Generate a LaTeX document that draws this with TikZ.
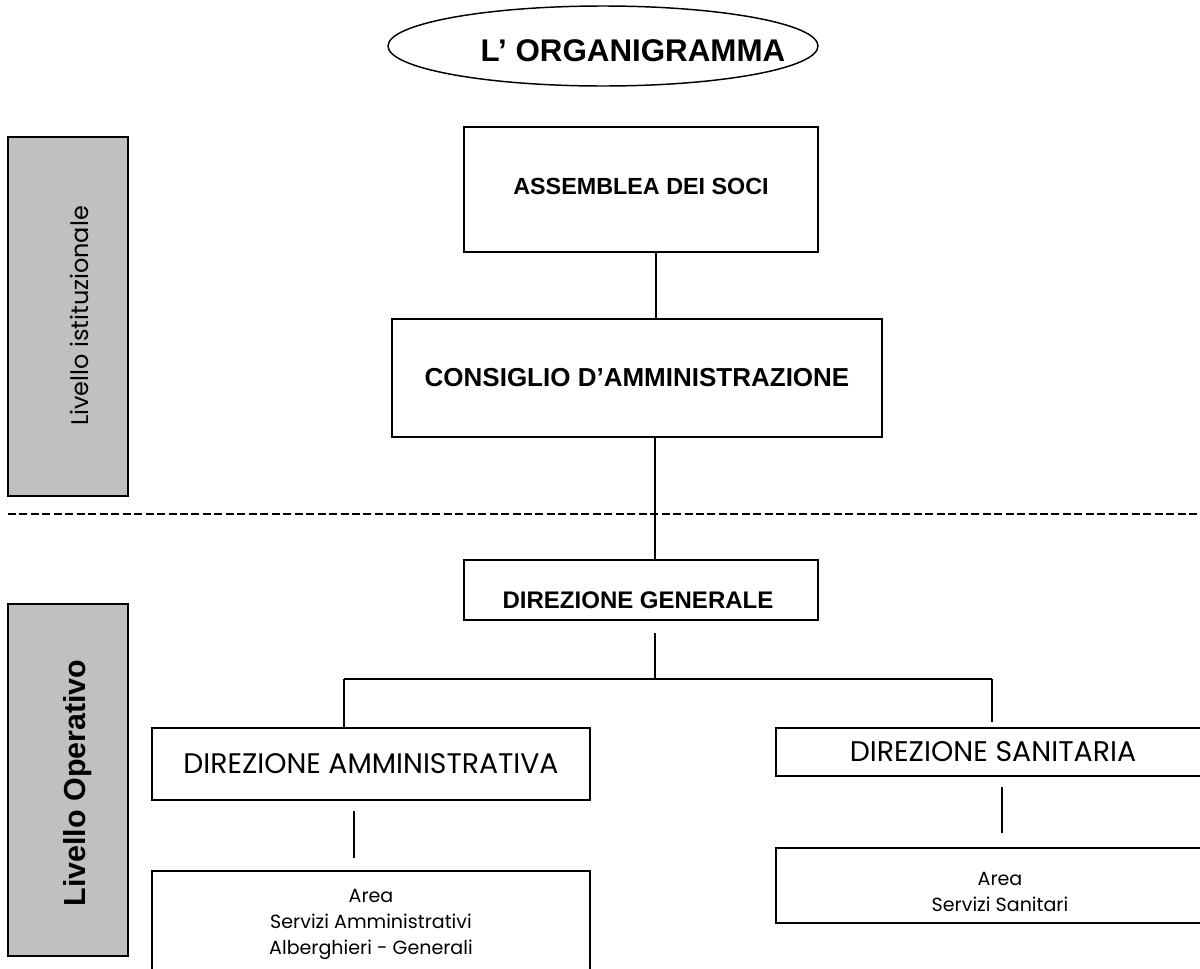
\documentclass[tikz,border=0pt]{standalone}
\usepackage{fontspec}
\setmainfont{Liberation Sans}
\newfontfamily\gothic{Poppins}
\usetikzlibrary{shapes.geometric}
\definecolor{lgray}{RGB}{192,192,192}
\newlength\pxu
\setlength\pxu{0.75pt}
\tikzset{
  bx/.style={draw, line width=1.1pt, inner sep=0pt},
  lvlbox/.style={draw, line width=1.5pt, fill=lgray, inner sep=0pt},
  conn/.style={line width=1.5pt},
  boldtxt/.style={font=\bfseries\fontsize{#1}{#1}\selectfont},
  gothtxt/.style={font=\gothic\fontsize{#1}{#1}\selectfont},
  areatxt/.style={align=center, inner sep=0pt, font=\gothic\fontsize{14.3pt}{19.5pt}\selectfont},
}
\begin{document}
\begin{tikzpicture}[x=0.75pt,y=-0.75pt]
\useasboundingbox (0,0) rectangle (1200,968);
\clip (0,0) rectangle (1200,968);

% title
\node[ellipse, draw, line width=1.1pt, minimum width=430\pxu, minimum height=80\pxu, inner sep=0pt] (title) at (603,46) {};
\node[boldtxt=23.5pt, inner sep=0pt] (titlet) at (633,51) {L’ ORGANIGRAMMA};

% level boxes
\node[lvlbox, minimum width=120\pxu, minimum height=359\pxu] (lvlI) at (68,316.5) {};
\node[gothtxt=18pt, rotate=90, inner sep=0pt] (lvlIt) at (79,316) {Livello istituzionale};
\node[lvlbox, minimum width=120\pxu, minimum height=352\pxu] (lvlO) at (68,780) {};
\node[boldtxt=22.8pt, rotate=90, inner sep=0pt] (lvlOt) at (78,783) {Livello Operativo};

% dashed separator
\coordinate (dashL) at (8,514);
\coordinate (dashR) at (1200,514);
\draw[line width=1.9pt, dash pattern=on 6pt off 2.6pt] (dashL) -- (dashR);

% institutional level
\node[bx, minimum width=354\pxu, minimum height=125\pxu] (assem) at (641,189.5) {};
\node[boldtxt=17.5pt, inner sep=0pt] (assemt) at (641,186) {ASSEMBLEA DEI SOCI};
\node[bx, minimum width=490\pxu, minimum height=118\pxu, boldtxt=19.5pt] (cons) at (637,378) {CONSIGLIO D’AMMINISTRAZIONE};

% operational level
\node[bx, minimum width=354\pxu, minimum height=60\pxu] (dg) at (641,590) {};
\node[boldtxt=18pt, inner sep=0pt] (dgt) at (638,600) {DIREZIONE GENERALE};

\node[bx, minimum width=438\pxu, minimum height=72\pxu, gothtxt=21.2pt] (damm) at (371,764) {DIREZIONE AMMINISTRATIVA};
\node[bx, minimum width=438\pxu, minimum height=104\pxu] (aamm) at (371,923) {};
\node[areatxt] (aammt) at (371,924) {Area\\Servizi Amministrativi\\Alberghieri - Generali};

\node[bx, minimum width=434\pxu, minimum height=48\pxu, gothtxt=21.3pt] (dsan) at (993,752) {DIREZIONE SANITARIA};
\node[bx, minimum width=434\pxu, minimum height=75\pxu] (asan) at (993,885.5) {};
\node[areatxt] (asant) at (1000,892) {Area\\Servizi Sanitari};

% connectors
\coordinate (xA) at (656,0);
\draw[line width=1pt] (assem.south -| xA) -- (cons.north -| xA);
\coordinate (xB) at (655,0);
\draw[line width=1.9pt] (cons.south -| xB) -- (dg.north -| xB);

\coordinate (dgOut) at (655,633);
\coordinate (busC) at (655,679);
\coordinate (busL) at (344,679);
\coordinate (busR) at (992,679);
\coordinate (sanIn) at (992,722);
\draw[conn] (dgOut) -- (busC);
\draw[conn] (busL) -- (busR);
\draw[conn] (busL) -- (damm.north -| busL);
\draw[conn] (busR) -- (sanIn);

\coordinate (ammA) at (354,811);
\coordinate (ammB) at (354,858);
\draw[conn] (ammA) -- (ammB);
\coordinate (sanA) at (1002,787);
\coordinate (sanB) at (1002,833);
\draw[conn] (sanA) -- (sanB);
\end{tikzpicture}
\end{document}
